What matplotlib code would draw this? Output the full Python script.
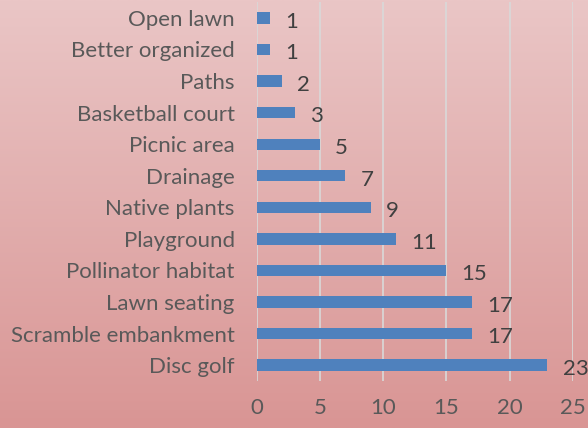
import numpy as np
import matplotlib.pyplot as plt
from matplotlib.colors import LinearSegmentedColormap

# survey responses, top to bottom as shown
categories = ['Open lawn', 'Better organized', 'Paths', 'Basketball court', 'Picnic area',
              'Drainage', 'Native plants', 'Playground', 'Pollinator habitat', 'Lawn seating',
              'Scramble embankment', 'Disc golf']
counts = [1, 1, 2, 3, 5, 7, 9, 11, 15, 17, 17, 23]

plt.rcParams['font.family'] = ['Lato', 'DejaVu Sans']

fig = plt.figure(figsize=(5.88, 4.28), dpi=100)

# pink gradient background
bg = fig.add_axes([0, 0, 1, 1], zorder=-1)
grad = np.linspace(0, 1, 256).reshape(-1, 1)
cmap = LinearSegmentedColormap.from_list('bg', ['#EAC6C6', '#D99594'])
bg.imshow(grad, aspect='auto', cmap=cmap, extent=[0, 1, 0, 1], origin='upper')
bg.axis('off')

ax = fig.add_axes([0.437, 0.11, 0.537, 0.885])
ax.patch.set_alpha(0)

y = np.arange(len(categories))
ax.barh(y, counts, height=0.36, color='#4F81BD', zorder=3)
for yi, c in zip(y, counts):
    ax.text(c + 1.2, yi + 0.12, str(c), va='center', ha='left', fontsize=16,
            color='#404040', zorder=4)

ax.set_ylim(len(categories) - 0.5, -0.5)
ax.set_xlim(0, 25)
ax.set_xticks([0, 5, 10, 15, 20, 25])
ax.set_yticks(y)
ax.set_yticklabels(categories, fontsize=16.3)
ax.tick_params(axis='both', length=0, labelsize=16, labelcolor='#595959')
ax.tick_params(axis='x', pad=12)
ax.tick_params(axis='y', pad=16)
ax.xaxis.grid(True, color='#D9D9D9', linewidth=1.2, zorder=0)
for s in ax.spines.values():
    s.set_visible(False)

fig.savefig('out.png', dpi=100)
